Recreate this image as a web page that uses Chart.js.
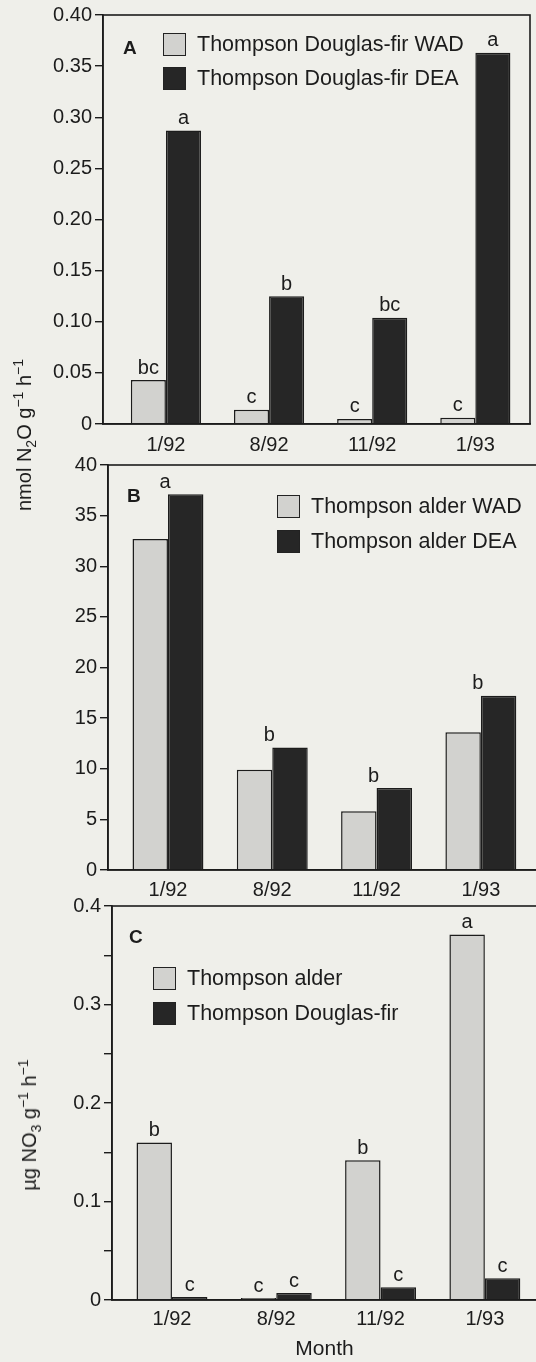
<!DOCTYPE html>
<html>
<head>
<meta charset="utf-8">
<script src="https://cdn.jsdelivr.net/npm/chart.js@4.4.1/dist/chart.umd.min.js"></script>
<style>
    html, body { margin: 0; padding: 0; }
    body {
        width: 536px; height: 1362px; overflow: hidden; position: relative;
        background: #efefea; color: #1c1c1c;
        font-family: "Liberation Sans", Arial, sans-serif;
    }
    canvas { position: absolute; left: 0; }
    .legend-row { position: absolute; display: flex; align-items: center; font-size: 21.5px; white-space: nowrap; height: 28px; }
    .swatch { width: 23px; height: 23px; box-sizing: border-box; border: 1.5px solid #222; margin-right: 11px; }
    .swatch.light { background: #d2d2cf; }
    .swatch.dark { background: #262626; }
    .panel-tag { position: absolute; font-weight: bold; font-size: 19px; line-height: 1; }
    .ytitle {
        position: absolute; font-size: 20px; white-space: nowrap; line-height: 1;
        transform: translate(-50%, -50%) rotate(-90deg);
    }
    .ytitle sub, .ytitle sup { font-size: 0.7em; line-height: 0; }
</style>
</head>
<body>

<canvas id="chartA" width="560" height="460" style="top:0px"></canvas>
<canvas id="chartB" width="560" height="460" style="top:445px"></canvas>
<canvas id="chartC" width="560" height="482" style="top:880px"></canvas>

<!-- panel tags -->
<div class="panel-tag" style="left:123px; top:38px;">A</div>
<div class="panel-tag" style="left:127px; top:486px;">B</div>
<div class="panel-tag" style="left:129px; top:927px;">C</div>

<!-- legends -->
<div class="legend-row" style="left:163px; top:30px;"><span class="swatch light"></span>Thompson Douglas-fir WAD</div>
<div class="legend-row" style="left:163px; top:64px;"><span class="swatch dark"></span>Thompson Douglas-fir DEA</div>

<div class="legend-row" style="left:277px; top:492px;"><span class="swatch light"></span>Thompson alder WAD</div>
<div class="legend-row" style="left:277px; top:527px;"><span class="swatch dark"></span>Thompson alder DEA</div>

<div class="legend-row" style="left:153px; top:964px;"><span class="swatch light"></span>Thompson alder</div>
<div class="legend-row" style="left:153px; top:999px;"><span class="swatch dark"></span>Thompson Douglas-fir</div>

<!-- y axis titles -->
<div class="ytitle" style="left:24px; top:435px;">nmol N<sub>2</sub>O g<sup>&minus;1</sup> h<sup>&minus;1</sup></div>
<div class="ytitle" style="left:29px; top:1125px;">&micro;g NO<sub>3</sub> g<sup>&minus;1</sup> h<sup>&minus;1</sup></div>

<script>
// --- 1. DATA ---
const months = ['1/92', '8/92', '11/92', '1/93'];

// Panel A: N2O, Thompson Douglas-fir
const dfWad = [0.043, 0.014, 0.005, 0.006];
const dfDea = [0.287, 0.125, 0.104, 0.363];
const dfWadLetters = ['bc', 'c', 'c', 'c'];
const dfDeaLetters = ['a', 'b', 'bc', 'a'];
const yTicksA = [0, 0.05, 0.10, 0.15, 0.20, 0.25, 0.30, 0.35, 0.40];

// Panel B: N2O, Thompson alder
const alderWad = [32.7, 9.9, 5.8, 13.6];
const alderDea = [37.1, 12.1, 8.1, 17.2];
const alderWadLetters = [null, null, null, null];
const alderDeaLetters = ['a', 'b', 'b', 'b'];
const yTicksB = [0, 5, 10, 15, 20, 25, 30, 35, 40];

// Panel C: NO3
const no3Alder = [0.160, 0.002, 0.142, 0.371];
const no3Df = [0.003, 0.007, 0.013, 0.022];
const no3AlderLetters = ['b', 'c', 'b', 'a'];
const no3DfLetters = ['c', 'c', 'c', 'c'];
const yTicksC = [0, 0.05, 0.1, 0.15, 0.2, 0.25, 0.3, 0.35, 0.4];
const yLabelsC = [0, 0.1, 0.2, 0.3, 0.4];

// --- 2. STYLE ---
const INK = '#1c1c1c';
const LIGHT = '#d2d2cf';
const DARK = '#262626';
Chart.defaults.font.family = '"Liberation Sans", Arial, sans-serif';
Chart.defaults.color = INK;

const toPoints = (vals) => vals.map((v, i) => ({ x: i + 1, y: v }));

// frame around the plot area (top + right sides)
const framePlugin = {
    id: 'frame',
    afterDraw(chart) {
        const { ctx, chartArea: a } = chart;
        ctx.save();
        ctx.strokeStyle = INK;
        ctx.lineWidth = 1.6;
        ctx.strokeRect(a.left, a.top, a.right - a.left, a.bottom - a.top);
        ctx.restore();
    }
};

// significance letters above bars
const lettersPlugin = {
    id: 'sigLetters',
    afterDatasetsDraw(chart, args, opts) {
        const { ctx } = chart;
        ctx.save();
        ctx.font = '20px "Liberation Sans", Arial, sans-serif';
        ctx.fillStyle = INK;
        ctx.textBaseline = 'bottom';
        ctx.textAlign = 'center';
        chart.data.datasets.forEach((ds, i) => {
            chart.getDatasetMeta(i).data.forEach((bar, j) => {
                const txt = ds.letters[j];
                if (!txt) return;
                let x = bar.x;
                if (opts.align === 'left') x = bar.x - bar.width / 2 - 3;
                ctx.fillText(txt, x, bar.y - 2);
            });
        });
        ctx.restore();
    }
};

function makeChart(id, cfg) {
    return new Chart(document.getElementById(id), {
        type: 'bar',
        data: {
            datasets: [
                { data: toPoints(cfg.a), letters: cfg.aLetters, backgroundColor: LIGHT, borderColor: INK, borderWidth: 1.5 },
                { data: toPoints(cfg.b), letters: cfg.bLetters, backgroundColor: DARK, borderColor: INK, borderWidth: 1.5 }
            ]
        },
        options: {
            responsive: false,
            animation: false,
            categoryPercentage: 0.68,
            barPercentage: 1.0,
            layout: { padding: cfg.padding },
            plugins: {
                legend: { display: false },
                tooltip: { enabled: false },
                sigLetters: { align: cfg.letterAlign }
            },
            scales: {
                x: {
                    type: 'linear',
                    offset: false,
                    min: cfg.xMin, max: cfg.xMax,
                    grid: { display: false },
                    border: { display: true, color: INK, width: 1.6 },
                    afterBuildTicks: (s) => { s.ticks = months.map((m, i) => ({ value: i + 1 })); },
                    afterFit: (s) => { s.height = cfg.xHeight; },
                    ticks: {
                        autoSkip: false, maxRotation: 0, padding: cfg.xPad,
                        font: { size: 20 }, color: INK,
                        callback: (v) => months[v - 1]
                    },
                    title: cfg.xTitle ? { display: true, text: cfg.xTitle, font: { size: 21 }, color: INK, padding: 0 } : { display: false }
                },
                y: {
                    min: cfg.yTicks[0], max: cfg.yTicks[cfg.yTicks.length - 1],
                    grid: { drawOnChartArea: false, drawTicks: true, tickLength: 8, color: INK, lineWidth: 1.4 },
                    border: { display: true, color: INK, width: 1.6 },
                    afterBuildTicks: (s) => { s.ticks = cfg.yTicks.map(v => ({ value: v })); },
                    afterFit: (s) => { s.width = cfg.yWidth; },
                    ticks: {
                        autoSkip: false, padding: 3, font: { size: 20 }, color: INK,
                        callback: cfg.yFmt
                    }
                }
            }
        },
        plugins: [framePlugin, lettersPlugin]
    });
}

// --- 3. CHARTS ---
makeChart('chartA', {
    a: dfWad, b: dfDea, aLetters: dfWadLetters, bLetters: dfDeaLetters,
    yTicks: yTicksA,
    yFmt: (v) => v === 0 ? '0' : v.toFixed(2),
    xMin: 0.39, xMax: 4.53,
    yWidth: 103, xHeight: 36, xPad: 1,
    padding: { top: 15, right: 30, left: 0, bottom: 0 },
    letterAlign: 'center'
});

makeChart('chartB', {
    a: alderWad, b: alderDea, aLetters: alderWadLetters, bLetters: alderDeaLetters,
    yTicks: yTicksB,
    yFmt: (v) => String(v),
    xMin: 0.425, xMax: 4.615,
    yWidth: 108, xHeight: 35, xPad: 0,
    padding: { top: 20, right: 15, left: 0, bottom: 0 },
    letterAlign: 'left'
});

makeChart('chartC', {
    a: no3Alder, b: no3Df, aLetters: no3AlderLetters, bLetters: no3DfLetters,
    yTicks: yTicksC,
    yFmt: (v) => {
        const hit = yLabelsC.find(l => Math.abs(l - v) < 1e-9);
        if (hit === undefined) return '';
        return hit === 0 ? '0' : hit.toFixed(1);
    },
    xMin: 0.425, xMax: 4.50,
    yWidth: 112, xHeight: 62, xPad: -1, xTitle: 'Month',
    padding: { top: 26, right: 23, left: 0, bottom: 0 },
    letterAlign: 'center'
});
</script>
</body>
</html>
